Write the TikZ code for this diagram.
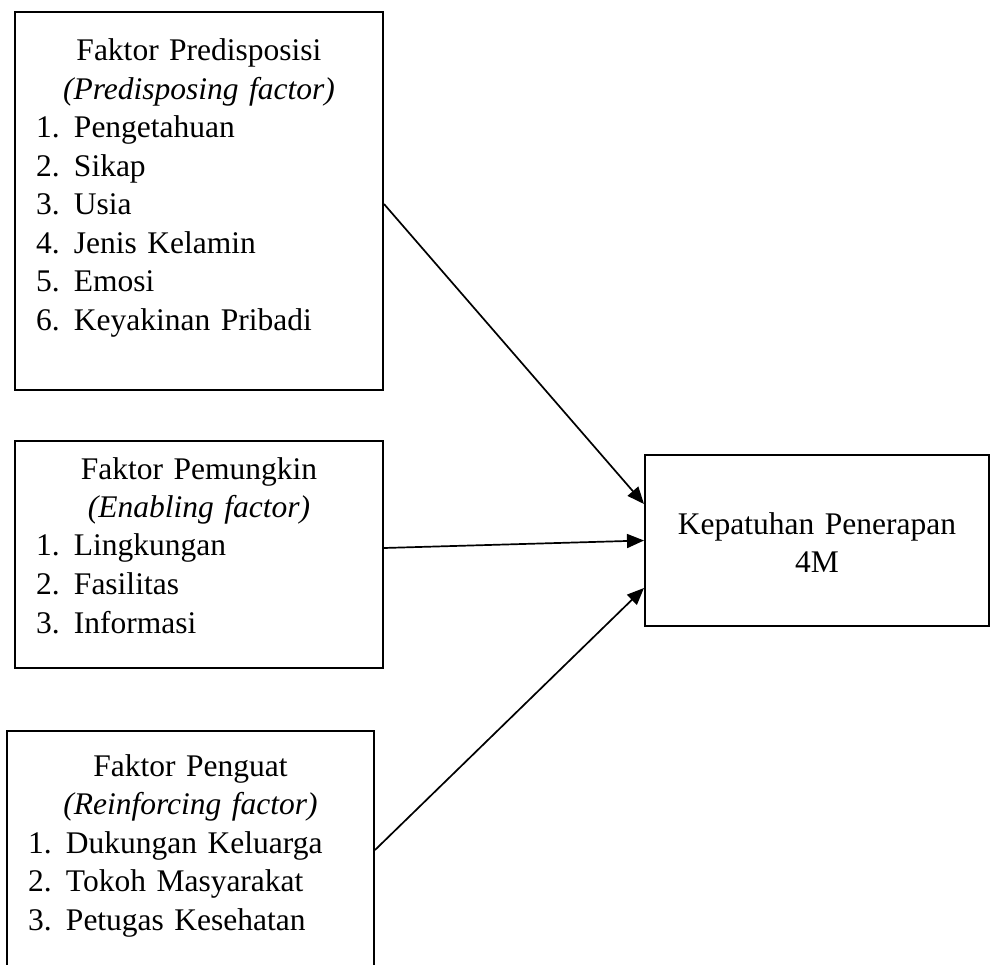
\documentclass[tikz,border=0pt]{standalone}
\usepackage{fontspec}
\setmainfont{Liberation Serif}
\usetikzlibrary{arrows.meta}

\newcommand{\faktoritem}[2]{\makebox[\hsize][l]{\hspace*{21pt}\makebox[38pt][l]{#1}#2}}

\begin{document}
\begin{tikzpicture}[
  x=1pt, y=-1pt,
  every node/.style={font=\fontsize{31.5}{38.5}\selectfont},
  factorbox/.style={draw, line width=2pt, anchor=north west, inner sep=0pt,
                    text width=368pt, align=center},
  resultbox/.style={factorbox, text width=344pt},
  arr/.style={-{Triangle[length=17pt,width=14pt]}, line width=1.7pt}
]
\useasboundingbox (0,0) rectangle (991,965);
\clip (0,0) rectangle (991,965);

\node[factorbox, text height=49pt, text depth=329pt] (pred) at (14,11)
  {Faktor Predisposisi\\ \textit{(Predisposing factor)}\\
   \faktoritem{1.}{Pengetahuan}\\ \faktoritem{2.}{Sikap}\\
   \faktoritem{3.}{Usia}\\ \faktoritem{4.}{Jenis Kelamin}\\
   \faktoritem{5.}{Emosi}\\ \faktoritem{6.}{Keyakinan Pribadi}};
\node[factorbox, text height=38pt, text depth=189pt] (pemung) at (14,440)
  {Faktor Pemungkin\\ \textit{(Enabling factor)}\\
   \faktoritem{1.}{Lingkungan}\\ \faktoritem{2.}{Fasilitas}\\
   \faktoritem{3.}{Informasi}};
\node[factorbox, text width=367pt, text height=45pt, text depth=250pt] (peng) at (6,730)
  {Faktor Penguat\\ \textit{(Reinforcing factor)}\\
   \faktoritem{1.}{Dukungan Keluarga}\\ \faktoritem{2.}{Tokoh Masyarakat}\\
   \faktoritem{3.}{Petugas Kesehatan}};
\node[resultbox, text height=79pt, text depth=92pt] (hasil) at (644,454)
  {Kepatuhan Penerapan\\ 4M};

\draw[arr] ([yshift=-3pt]pred.east) -- ([yshift=36.5pt]hasil.west);
\draw[arr] ([yshift=6.5pt]pemung.east) -- (hasil.west);
\draw[arr] ([yshift=-120pt]peng.north east) -- ([yshift=-47.5pt]hasil.west);
\end{tikzpicture}
\end{document}
